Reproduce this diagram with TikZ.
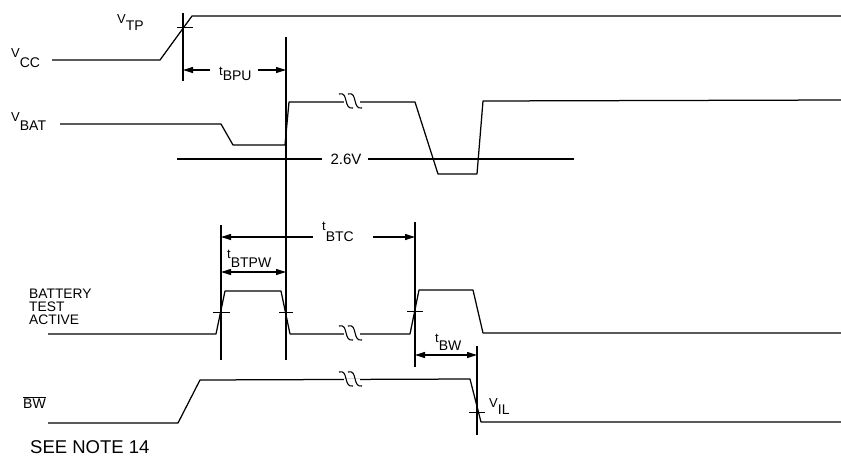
\documentclass[tikz,border=0pt]{standalone}
\usepackage{fontspec}
\setmainfont{Liberation Sans}
\usetikzlibrary{arrows.meta}
\newcommand\sigl[3][7pt]{{\fontsize{13}{13}\selectfont #2}\raisebox{-#1}{#3}}
\begin{document}
\begin{tikzpicture}[x=1pt,y=-1pt,
  wave/.style={line width=1.25pt, line join=round},
  guide/.style={line width=1.15pt},
  tickm/.style={line width=1pt},
  tip/.style={line width=1.1pt, -{Triangle[length=10pt,width=6pt]}},
  dim/.style={line width=1.1pt, {Triangle[length=10pt,width=6pt]}-{Triangle[length=10pt,width=6pt]}},
  lbl/.style={font=\fontsize{14}{14}\selectfont, inner sep=0pt},
  brk/.pic={
    \fill[white] (-8,-1.5) rectangle (8,1.5);
    \draw[line width=1.1pt] (-13,-8) .. controls (-3,-11) and (-9,8) .. (1,6);
    \draw[line width=1.1pt] (-4,-8) .. controls (6,-11) and (0,8) .. (10,6);
  }
]
\useasboundingbox (0,0) rectangle (841,456);

% ---- labels ----
\node[lbl, anchor=base west] (vcc) at (11,57) {\sigl[10pt]{V}{CC}};
\node[lbl, anchor=base west] (vtp) at (117,23) {\sigl[7pt]{V}{TP}};
\node[lbl, anchor=base west] (vbat) at (11,121) {\sigl[9pt]{V}{BAT}};
\node[lbl, anchor=base west] (tbpu) at (219,75) {\sigl[5pt]{t}{BPU}};
\node[lbl, anchor=center, font=\fontsize{15}{15}\selectfont] (v26) at (346,159) {2.6V};
\node[lbl, anchor=base west] (tbtc) at (322,230) {\sigl[11pt]{t}{BTC}};
\node[lbl, anchor=base west] (tbtpw) at (227,258) {\sigl[9pt]{t}{BTPW}};
\node[lbl, anchor=north west, align=left, font=\fontsize{13.8}{13}\selectfont] (bta) at (29,289) {BATTERY\\TEST\\ACTIVE};
\node[lbl, anchor=base west] (tbw) at (435,342) {\sigl[8pt]{t}{BW}};
\node[lbl, anchor=base west] (bwl) at (23,408) {$\overline{\mbox{BW}}$};
\node[lbl, anchor=base west] (vil) at (489,407) {\sigl[7pt]{V}{IL}};
\node[inner sep=0pt, anchor=base west, font=\fontsize{18.5}{18.5}\selectfont] (note) at (30,453) {SEE NOTE 14};

% ---- VCC ----
\draw[wave] (52,60) -- (160,60) -- (192,16) -- (841,16);
\draw[tickm] (177,27) -- (193,27);
\draw[guide] (183,13) -- (183,81);
\draw[guide] (286,37) -- (286,360);
\draw[tip] (210,70) -- (183,70);
\draw[tip] (258,70) -- (286,70);

% ---- VBAT ----
\draw[wave] (60,124) -- (221,124) -- (233,145) -- (285,145) -- (289,102) -- (415,102) -- (438,174) -- (477,174) -- (483,101) -- (841,100);
\pic at (352,102) {brk};
\draw[wave] (177,159) -- (322,159);
\draw[wave] (368,159) -- (574,159);

% ---- BATTERY TEST ACTIVE ----
\draw[wave] (48,334) -- (216,334) -- (225,291) -- (281,291) -- (290,334) -- (410,334) -- (419,290) -- (473,290) -- (483,333) -- (841,333);
\pic at (352,334) {brk};
\draw[tickm] (213,312) -- (230,312);
\draw[tickm] (279,312) -- (293,312);
\draw[tickm] (407,311) -- (423,311);
\draw[guide] (221,225) -- (221,360);
\draw[guide] (415,222) -- (415,367);
\draw[tip] (313,237) -- (221,237);
\draw[tip] (373,237) -- (415,237);
\draw[dim] (221,272) -- (286,272);

% ---- BW ----
\draw[wave] (48,423) -- (178,423) -- (200,380) -- (470,379) -- (481,422) -- (841,422);
\pic at (352,380) {brk};
\draw[tickm] (469,412) -- (485,412);
\draw[guide] (477,346) -- (477,435);
\draw[dim] (415,355) -- (477,355);
\end{tikzpicture}
\end{document}
